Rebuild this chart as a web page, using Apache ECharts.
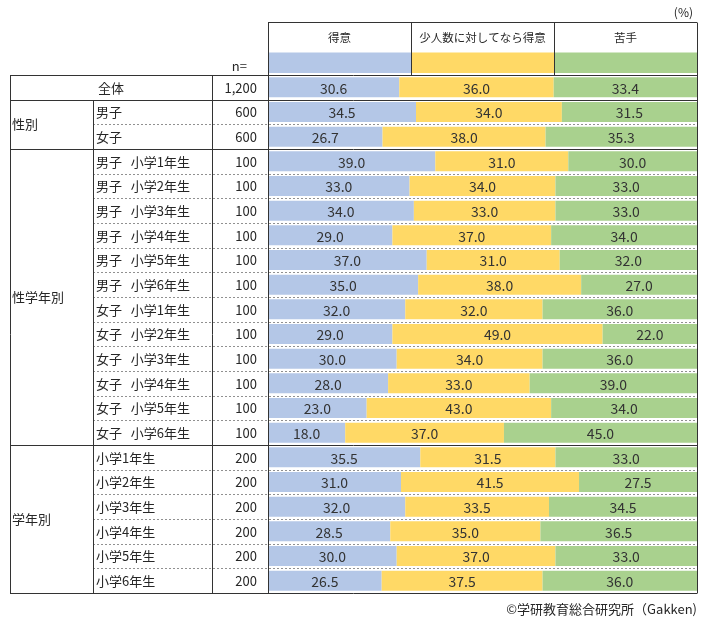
<!DOCTYPE html>
<html><head><meta charset="utf-8">
<script src="https://cdn.jsdelivr.net/npm/echarts@6/dist/echarts.min.js"></script>
<style>html,body{margin:0;padding:0;background:#fff}#c{width:708px;height:624px}</style>
</head><body><div id="c"></div>
<script>
// ---- data ----
const rowLabels = ['全体','男子','女子',
  '男子   小学1年生','男子   小学2年生','男子   小学3年生','男子   小学4年生','男子   小学5年生','男子   小学6年生',
  '女子   小学1年生','女子   小学2年生','女子   小学3年生','女子   小学4年生','女子   小学5年生','女子   小学6年生',
  '小学1年生','小学2年生','小学3年生','小学4年生','小学5年生','小学6年生'];
const nValues = ['1,200','600','600','100','100','100','100','100','100','100','100','100','100','100','100','200','200','200','200','200','200'];
const tokui    = [30.6,34.5,26.7,39.0,33.0,34.0,29.0,37.0,35.0,32.0,29.0,30.0,28.0,23.0,18.0,35.5,31.0,32.0,28.5,30.0,26.5];
const shoninzu = [36.0,34.0,38.0,31.0,34.0,33.0,37.0,31.0,38.0,32.0,49.0,34.0,33.0,43.0,37.0,31.5,41.5,33.5,35.0,37.0,37.5];
const nigate   = [33.4,31.5,35.3,30.0,33.0,33.0,34.0,32.0,27.0,36.0,22.0,36.0,39.0,34.0,45.0,33.0,27.5,34.5,36.5,33.0,36.0];
const seriesNames = ['得意','少人数に対してなら得意','苦手'];
const headerShares = [1,1,1];
const groups = [
  {label:'全体', from:0, to:0},
  {label:'性別', from:1, to:2},
  {label:'性学年別', from:3, to:14},
  {label:'学年別', from:15, to:20}
];
const colors = ['#b4c7e7','#ffd966','#a9d18e'];

// ---- layout ----
const L = 268, R = 697, TOP = 75, BOT = 593;
const colA = 10, colB = 93, colC = 212;
const HEAD_TOP = 22, BAND_TOP = 52.5, BAND_H = 20.5;
const N = rowLabels.length;
const rowH = (BOT - TOP) / N;
const yb = i => TOP + i * rowH;
const yc = i => TOP + (i + 0.5) * rowH;
const FONT = '"Noto Sans CJK JP", "Noto Sans", sans-serif';
const TXT = '#262626';
const LINE = '#333333';

const chart = echarts.init(document.getElementById('c'), null, {renderer:'canvas'});

const g = [];
function hline(x1, x2, y, dashed) {
  const yy = Math.round(y) + 0.5;
  g.push({type:'line', silent:true, z:10, shape:{x1:x1, y1:yy, x2:x2, y2:yy},
    style: dashed ? {stroke:'#909090', lineWidth:1, lineDash:[2,2]} : {stroke:LINE, lineWidth:1}});
}
function vline(x, y1, y2) {
  const xx = Math.round(x) + 0.5;
  g.push({type:'line', silent:true, z:10, shape:{x1:xx, y1:Math.round(y1)+0.5, x2:xx, y2:Math.round(y2)+0.5},
    style:{stroke:LINE, lineWidth:1}});
}
function text(str, x, y, align, size) {
  g.push({type:'text', silent:true, z:11, x:x, y:y,
    style:{text:str, fill:TXT, font: (size||13) + 'px ' + FONT, align:align||'left', verticalAlign:'middle'}});
}

// header box
hline(L, R, HEAD_TOP);
for (let k = 1; k < 3; k++) vline(L + (R - L) * k / 3, HEAD_TOP, TOP);
seriesNames.forEach((s, k) => text(s, L + (R - L) * (k + 0.5) / 3, 37.5, 'center', 11.5));
text('(%)', 693, 12, 'right', 12);
text('n=', 247, 66, 'right', 13);

// table lines
const groupStarts = new Set(groups.map(gr => gr.from));
for (let i = 0; i <= N; i++) {
  if (i === N || groupStarts.has(i)) hline(colA, R, yb(i));
  else hline(colB, R, yb(i), true);
}
vline(colA, yb(0), yb(N));
vline(colB, yb(1), yb(N));
vline(colC, yb(0), yb(N));
vline(L, HEAD_TOP, yb(N));
vline(R, HEAD_TOP, yb(N));

// left texts
groups.forEach(gr => {
  const y = (yb(gr.from) + yb(gr.to + 1)) / 2;
  if (gr.from === gr.to) text(gr.label, (colA + colC) / 2, y + 0.5, 'center');
  else text(gr.label, colA + 2, y, 'left');
});
for (let i = 1; i < N; i++) text(rowLabels[i], colB + 3, yc(i) + 0.5, 'left');
for (let i = 0; i < N; i++) text(nValues[i], 257, yc(i) + 0.5, 'right');

// footer
text('©学研教育総合研究所（Gakken)', 697, 609, 'right', 13);

const valueSeries = [tokui, shoninzu, nigate].map((arr, k) => ({
  name: seriesNames[k], type:'bar', stack:'main', xAxisIndex:0, yAxisIndex:0,
  barWidth: 20, itemStyle:{color:colors[k]}, silent:true,
  label:{show:true, position:'inside', formatter: p => p.value.toFixed(1),
    color:'#333333', fontSize:14, fontFamily:FONT, offset:[0,1]},
  data: arr
}));
const headerSeries = headerShares.map((v, k) => ({
  type:'bar', stack:'head', xAxisIndex:1, yAxisIndex:1, barWidth:'100%',
  itemStyle:{color:colors[k]}, silent:true, data:[v]
}));

chart.setOption({
  animation:false,
  grid:[
    {left:L, top:TOP, width:R - L, height:BOT - TOP, containLabel:false},
    {left:L, top:BAND_TOP, width:R - L, height:BAND_H, containLabel:false}
  ],
  xAxis:[
    {type:'value', gridIndex:0, min:0, max:100, show:false},
    {type:'value', gridIndex:1, min:0, max:headerShares.reduce((a,b)=>a+b,0), show:false}
  ],
  yAxis:[
    {type:'category', gridIndex:0, data:rowLabels, inverse:true, show:false},
    {type:'category', gridIndex:1, data:['header'], show:false}
  ],
  series: valueSeries.concat(headerSeries),
  graphic: g
});
</script></body></html>
